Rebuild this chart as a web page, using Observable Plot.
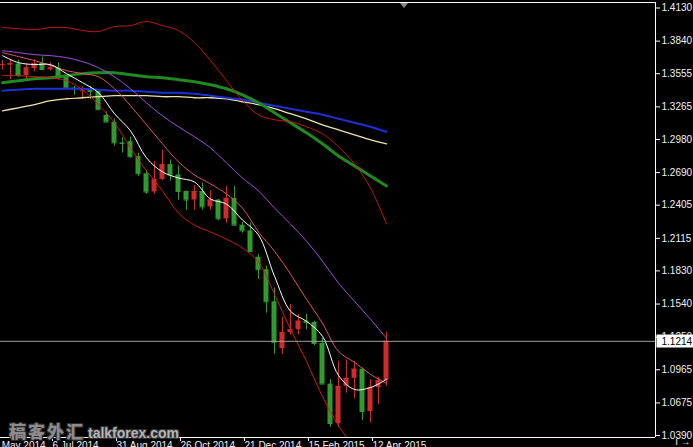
<!DOCTYPE html>
<html><head><meta charset="utf-8">
<script src="https://cdn.jsdelivr.net/npm/d3@7"></script>
<script src="https://cdn.jsdelivr.net/npm/@observablehq/plot@0.6"></script>
<style>
html,body{margin:0;padding:0;background:#000;}
#wrap{position:relative;width:693px;height:447px;overflow:hidden;background:#000;}
#wrap svg{display:block;}
#wm{position:absolute;left:9px;top:420px;white-space:nowrap;pointer-events:none;line-height:22px;}
#wm .cn{font-family:"Noto Sans CJK SC",sans-serif;font-weight:900;font-size:17px;letter-spacing:2px;color:#8c8c8c;
  text-shadow:-1px -1px 0 #2a2a2a,1px -1px 0 #2a2a2a,-1px 1px 0 #2a2a2a,1px 1px 0 #2a2a2a;}
#wm .en{font-family:"Liberation Sans",Arial,sans-serif;font-weight:bold;font-size:14px;color:#b4b4b4;margin-left:3px;
  text-shadow:-1px -1px 0 #333,1px -1px 0 #333,-1px 1px 0 #333,1px 1px 0 #333;}
#shift{position:absolute;left:400px;top:3px;width:0;height:0;border-left:4px solid transparent;border-right:4px solid transparent;border-top:5px solid #8a8a8a;}
</style></head><body>
<div id="wrap"><div id="shift"></div><div id="wm"><span class="cn">稿客外汇</span><span class="en">talkforex.com</span></div></div>
<script>
// ---- weekly EUR/USD candles (first bar: week of 25 May 2014) ----
const firstWeek = "2014-05-25";
const opens  = [1.3630,1.3630,1.3640,1.3540,1.3600,1.3645,1.3590,1.3605,1.3525,1.3430,1.3410,1.3410,1.3400,1.3190,1.3130,1.2950,1.2960,1.2830,1.2680,1.2520,1.2630,1.2760,1.2670,1.2525,1.2450,1.2525,1.2390,1.2450,1.2285,1.2465,1.2230,1.2180,1.1950,1.1840,1.1560,1.1150,1.1290,1.1315,1.1390,1.1380,1.1195,1.0840,1.0495,1.0820,1.0890,1.0970,1.0600,1.0810,1.0870];
const highs  = [1.3670,1.3677,1.3676,1.3644,1.3677,1.3700,1.3650,1.3650,1.3545,1.3445,1.3440,1.3445,1.3400,1.3221,1.3160,1.2995,1.3000,1.2860,1.2705,1.2790,1.2885,1.2800,1.2750,1.2530,1.2575,1.2600,1.2530,1.2455,1.2570,1.2570,1.2255,1.2250,1.1975,1.1870,1.1680,1.1425,1.1535,1.1450,1.1450,1.1390,1.1240,1.0880,1.1040,1.1050,1.1035,1.0980,1.0878,1.0900,1.1290];
const lows   = [1.3586,1.3503,1.3524,1.3500,1.3570,1.3589,1.3580,1.3500,1.3420,1.3367,1.3333,1.3330,1.3240,1.3130,1.2920,1.2860,1.2815,1.2655,1.2500,1.2500,1.2620,1.2615,1.2450,1.2360,1.2360,1.2360,1.2360,1.2270,1.2245,1.2240,1.2160,1.1995,1.1755,1.1460,1.1100,1.1100,1.1270,1.1270,1.1315,1.1175,1.0840,1.0460,1.0460,1.0760,1.0710,1.0520,1.0500,1.0660,1.0820];
const closes = [1.3635,1.3642,1.3540,1.3606,1.3645,1.3592,1.3605,1.3525,1.3430,1.3420,1.3410,1.3400,1.3240,1.3132,1.2950,1.2945,1.2830,1.2680,1.2520,1.2630,1.2760,1.2670,1.2525,1.2450,1.2525,1.2390,1.2450,1.2285,1.2465,1.2230,1.2180,1.2000,1.1840,1.1560,1.1205,1.1290,1.1315,1.1390,1.1380,1.1195,1.0840,1.0495,1.0820,1.0890,1.0970,1.0600,1.0810,1.0870,1.1214];

// ---- indicator lines, read every second bar ----
const lineIdx = [0,2,4,6,8,10,12,14,16,18,20,22,24,26,28,30,32,34,36,38,40,42,44,46,48];
const redUpper = [1.3959,1.3950,1.3941,1.3959,1.3959,1.3933,1.3924,1.3968,1.3976,1.4012,1.3976,1.3933,1.3827,1.3670,1.3494,1.3319,1.3196,1.3152,1.3135,1.3091,1.3029,1.2915,1.2766,1.2556,1.2240];
const greenMA  = [1.3477,1.3494,1.3512,1.3520,1.3538,1.3556,1.3564,1.3564,1.3547,1.3529,1.3520,1.3503,1.3485,1.3459,1.3424,1.3371,1.3301,1.3214,1.3126,1.3038,1.2942,1.2836,1.2749,1.2661,1.2573];
const blueMA   = [1.3407,1.3415,1.3424,1.3424,1.3424,1.3424,1.3415,1.3407,1.3407,1.3398,1.3389,1.3389,1.3380,1.3363,1.3345,1.3328,1.3301,1.3275,1.3249,1.3222,1.3196,1.3161,1.3126,1.3091,1.3047];
const yellowMA = [1.3231,1.3257,1.3284,1.3319,1.3336,1.3345,1.3354,1.3363,1.3363,1.3363,1.3354,1.3354,1.3345,1.3345,1.3336,1.3310,1.3284,1.3249,1.3205,1.3161,1.3108,1.3064,1.3021,1.2977,1.2942];
const purpleMA = [1.3757,1.3740,1.3722,1.3713,1.3696,1.3661,1.3608,1.3529,1.3424,1.3301,1.3187,1.3091,1.3003,1.2907,1.2775,1.2643,1.2530,1.2380,1.2240,1.2091,1.1915,1.1723,1.1565,1.1407,1.1240];
const pinkMA   = [1.3740,1.3705,1.3670,1.3626,1.3582,1.3556,1.3529,1.3424,1.3275,1.3108,1.2942,1.2784,1.2670,1.2591,1.2503,1.2380,1.2170,1.2003,1.1802,1.1582,1.1372,1.1126,1.1030,1.0925,1.0846];
const redLower = [1.3538,1.3538,1.3529,1.3520,1.3494,1.3415,1.3284,1.3126,1.2907,1.2705,1.2530,1.2337,1.2231,1.2170,1.2108,1.2030,1.1907,1.1626,1.1319,1.1038,1.0731,1.0477,1.0293,1.0205,1.0144];
const whiteMA  = [1.3713,1.3652,1.3635,1.3635,1.3556,1.3477,1.3389,1.3205,1.3056,1.2819,1.2696,1.2643,1.2608,1.2459,1.2415,1.2275,1.2144,1.1784,1.1477,1.1389,1.1258,1.0916,1.0793,1.0810,1.0881];

// ---- axes ----
const priceTicks = [1.4130,1.3840,1.3555,1.3265,1.2980,1.2690,1.2405,1.2115,1.1830,1.1540,1.1250,1.0965,1.0675,1.0390];
const dateTicks  = ["2014-05-11","2014-07-06","2014-08-31","2014-10-26","2014-12-21","2015-02-15","2015-04-12"];
const dateLabels = ["11 May 2014","6 Jul 2014","31 Aug 2014","26 Oct 2014","21 Dec 2014","15 Feb 2015","12 Apr 2015"];
const lastPrice = closes[closes.length - 1];

const UP = "#d02a2a", DOWN = "#2f9b2f";
const weekIndex = s => Math.round((new Date(s) - new Date(firstWeek)) / (7 * 864e5));
const candles = opens.map((o, i) => ({i, open: o, high: highs[i], low: lows[i], close: closes[i]}));
const col = d => d.close >= d.open ? UP : DOWN;
const line = vals => lineIdx.map((i, k) => ({i, v: vals[k]}));
const tickIdx = dateTicks.map(weekIndex);
const labelOf = new Map(tickIdx.map((t, k) => [t, dateLabels[k]]));
const lastLabel = lastPrice.toFixed(4);

const xDom = [-0.25, 81.625], yDom = [1.03725, 1.41782];
const lm = (vals, stroke, w) => Plot.line(line(vals), {x: "i", y: "v", stroke, strokeWidth: w, curve: "catmull-rom", clip: true});

const chart = Plot.plot({
  width: 693, height: 447,
  marginTop: 2, marginRight: 38, marginBottom: 10, marginLeft: 0,
  style: {background: "#000", color: "#f0f0f0", fontFamily: "'Liberation Sans Narrow','Liberation Sans',sans-serif", fontSize: "10px"},
  x: {type: "linear", domain: xDom, axis: null},
  y: {domain: yDom, axis: null},
  marks: [
    Plot.ruleX(candles, {x: "i", y1: "low", y2: "high", stroke: col, strokeWidth: 1}),
    Plot.rect(candles, {x1: d => d.i - 0.3125, x2: d => d.i + 0.3125, y1: "open", y2: "close", fill: col}),
    Plot.ruleY(candles, {x1: d => d.i - 0.3125, x2: d => d.i + 0.3125, y: "close", stroke: col}),
    lm(yellowMA, "#efe3a6", 1.3),
    lm(blueMA, "#1d2fd6", 2),
    lm(greenMA, "#1f8a1f", 3),
    lm(redUpper, "#c81414", 1),
    lm(purpleMA, "#a24fe0", 1),
    lm(pinkMA, "#e4506c", 1),
    lm(redLower, "#d41818", 1),
    lm(whiteMA, "#ffffff", 1),
    Plot.ruleY([lastPrice], {stroke: "#a0a0a0"}),
    Plot.ruleY([yDom[1]], {stroke: "#ffffff"}),
    Plot.ruleY([yDom[0]], {stroke: "#ffffff"}),
    Plot.ruleX([xDom[1]], {stroke: "#ffffff"}),
    Plot.axisY({anchor: "right", ticks: priceTicks, tickFormat: d => d.toFixed(4), tickSize: 4, tickPadding: 2, stroke: "#fff", fill: "#f0f0f0"}),
    Plot.axisX({anchor: "bottom", ticks: tickIdx, tickFormat: t => labelOf.get(t), textAnchor: "start", dx: 2, tickSize: 4, tickPadding: 0, stroke: "#fff", fill: "#f0f0f0"}),
    Plot.text([lastPrice], {y: d => d, text: () => lastLabel, frameAnchor: "right", dx: 6, textAnchor: "start", fill: "#000"})
  ]
});
document.getElementById("wrap").prepend(chart);

// white box behind the current-price label
d3.select(chart).selectAll("text")
  .filter(function () { return this.textContent === lastLabel && this.getAttribute("fill") !== "#f0f0f0"; })
  .each(function () {
    const b = this.getBBox();
    const t = this.getAttribute("transform");
    const r = d3.select(this.parentNode).insert("rect", () => this)
      .attr("x", b.x - 5).attr("y", b.y - 1)
      .attr("width", b.width + 9).attr("height", b.height + 2)
      .attr("fill", "#fff");
    if (t) r.attr("transform", t);
  });
</script>
</body></html>
